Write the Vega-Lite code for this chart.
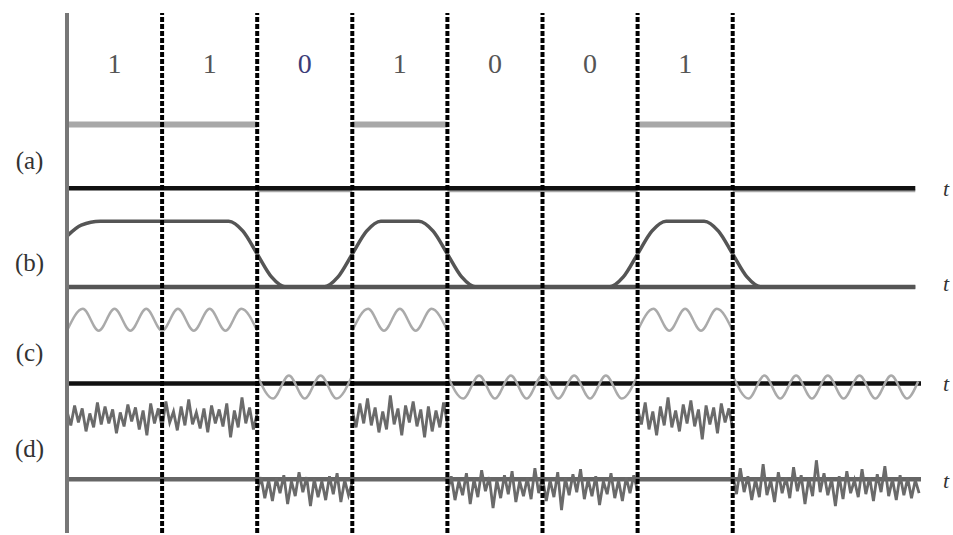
{
"$schema":"https://vega.github.io/schema/vega-lite/v6.json",
"width":953,"height":535,"padding":0,
"autosize":{"type":"fit","contains":"padding"},
"background":"white",
"config":{"view":{"stroke":null}},
"datasets":{
"sq":[{"t":0,"t2":2,"y":410},{"t":3,"t2":4,"y":410},{"t":6,"t2":7,"y":410},{"t":2,"t2":3,"y":343.5},{"t":4,"t2":6,"y":343.5},{"t":7,"t2":8.92,"y":343.5}],
"base":[{"p":"a","t":0,"t2":8.92,"y":346},{"p":"b","t":0,"t2":8.92,"y":247},{"p":"c","t":0,"t2":8.98,"y":150},{"p":"d","t":0,"t2":8.98,"y":54}],
"b":[{"t":0,"y":298},{"t":0.15,"y":309},{"t":0.35,"y":313},{"t":1.7,"y":313},{"t":1.85,"y":303},{"t":2,"y":280},{"t":2.15,"y":257},{"t":2.3,"y":247},{"t":2.7,"y":247},{"t":2.85,"y":257},{"t":3,"y":280},{"t":3.15,"y":303},{"t":3.3,"y":313},{"t":3.7,"y":313},{"t":3.85,"y":303},{"t":4,"y":280},{"t":4.15,"y":257},{"t":4.3,"y":247},{"t":5.7,"y":247},{"t":5.85,"y":257},{"t":6,"y":280},{"t":6.15,"y":303},{"t":6.3,"y":313},{"t":6.7,"y":313},{"t":6.85,"y":303},{"t":7,"y":280},{"t":7.15,"y":257},{"t":7.3,"y":247},{"t":8.92,"y":247}],
"sn":[
{"g":1,"t":0,"y":203},{"g":1,"t":0.1667,"y":225},{"g":1,"t":0.3333,"y":203},{"g":1,"t":0.5,"y":225},{"g":1,"t":0.6667,"y":203},{"g":1,"t":0.8333,"y":225},{"g":1,"t":1,"y":203},{"g":1,"t":1.1667,"y":225},{"g":1,"t":1.3333,"y":203},{"g":1,"t":1.5,"y":225},{"g":1,"t":1.6667,"y":203},{"g":1,"t":1.8333,"y":225},{"g":1,"t":2,"y":203},
{"g":2,"t":2,"y":158},{"g":2,"t":2.1667,"y":135},{"g":2,"t":2.3333,"y":158},{"g":2,"t":2.5,"y":135},{"g":2,"t":2.6667,"y":158},{"g":2,"t":2.8333,"y":135},{"g":2,"t":3,"y":158},
{"g":3,"t":3,"y":203},{"g":3,"t":3.1667,"y":225},{"g":3,"t":3.3333,"y":203},{"g":3,"t":3.5,"y":225},{"g":3,"t":3.6667,"y":203},{"g":3,"t":3.8333,"y":225},{"g":3,"t":4,"y":203},
{"g":4,"t":4,"y":158},{"g":4,"t":4.1667,"y":135},{"g":4,"t":4.3333,"y":158},{"g":4,"t":4.5,"y":135},{"g":4,"t":4.6667,"y":158},{"g":4,"t":4.8333,"y":135},{"g":4,"t":5,"y":158},{"g":4,"t":5.1667,"y":135},{"g":4,"t":5.3333,"y":158},{"g":4,"t":5.5,"y":135},{"g":4,"t":5.6667,"y":158},{"g":4,"t":5.8333,"y":135},{"g":4,"t":6,"y":158},
{"g":5,"t":6,"y":203},{"g":5,"t":6.1667,"y":225},{"g":5,"t":6.3333,"y":203},{"g":5,"t":6.5,"y":225},{"g":5,"t":6.6667,"y":203},{"g":5,"t":6.8333,"y":225},{"g":5,"t":7,"y":203},
{"g":6,"t":7,"y":158},{"g":6,"t":7.1667,"y":135},{"g":6,"t":7.3333,"y":158},{"g":6,"t":7.5,"y":135},{"g":6,"t":7.6667,"y":158},{"g":6,"t":7.8333,"y":135},{"g":6,"t":8,"y":158},{"g":6,"t":8.1667,"y":135},{"g":6,"t":8.3333,"y":158},{"g":6,"t":8.5,"y":135},{"g":6,"t":8.6667,"y":158},{"g":6,"t":8.8333,"y":135},{"g":6,"t":8.95,"y":152}
],
"nz":[
{"g":1,"t":0,"y":122},{"g":1,"t":0.04,"y":108},{"g":1,"t":0.08,"y":128},{"g":1,"t":0.12,"y":111},{"g":1,"t":0.16,"y":125},{"g":1,"t":0.2,"y":102},{"g":1,"t":0.24,"y":120},{"g":1,"t":0.28,"y":106},{"g":1,"t":0.32,"y":131},{"g":1,"t":0.36,"y":109},{"g":1,"t":0.4,"y":127},{"g":1,"t":0.44,"y":110},{"g":1,"t":0.48,"y":124},{"g":1,"t":0.52,"y":100},{"g":1,"t":0.56,"y":121},{"g":1,"t":0.6,"y":107},{"g":1,"t":0.64,"y":129},{"g":1,"t":0.68,"y":112},{"g":1,"t":0.72,"y":126},{"g":1,"t":0.76,"y":104},{"g":1,"t":0.8,"y":123},{"g":1,"t":0.84,"y":98},{"g":1,"t":0.88,"y":130},{"g":1,"t":0.92,"y":110},{"g":1,"t":0.96,"y":125},{"g":1,"t":1,"y":106},{"g":1,"t":1.04,"y":132},{"g":1,"t":1.08,"y":111},{"g":1,"t":1.12,"y":122},{"g":1,"t":1.16,"y":103},{"g":1,"t":1.2,"y":127},{"g":1,"t":1.24,"y":108},{"g":1,"t":1.28,"y":134},{"g":1,"t":1.32,"y":109},{"g":1,"t":1.36,"y":121},{"g":1,"t":1.4,"y":105},{"g":1,"t":1.44,"y":125},{"g":1,"t":1.48,"y":101},{"g":1,"t":1.52,"y":128},{"g":1,"t":1.56,"y":110},{"g":1,"t":1.6,"y":124},{"g":1,"t":1.64,"y":107},{"g":1,"t":1.68,"y":130},{"g":1,"t":1.72,"y":96},{"g":1,"t":1.76,"y":123},{"g":1,"t":1.8,"y":106},{"g":1,"t":1.84,"y":136},{"g":1,"t":1.88,"y":110},{"g":1,"t":1.92,"y":126},{"g":1,"t":1.96,"y":104},{"g":1,"t":2,"y":120},
{"g":2,"t":2,"y":42},{"g":2,"t":2.04,"y":56},{"g":2,"t":2.08,"y":35},{"g":2,"t":2.12,"y":53},{"g":2,"t":2.16,"y":32},{"g":2,"t":2.2,"y":55},{"g":2,"t":2.24,"y":40},{"g":2,"t":2.28,"y":58},{"g":2,"t":2.32,"y":29},{"g":2,"t":2.36,"y":52},{"g":2,"t":2.4,"y":37},{"g":2,"t":2.44,"y":61},{"g":2,"t":2.48,"y":41},{"g":2,"t":2.52,"y":56},{"g":2,"t":2.56,"y":27},{"g":2,"t":2.6,"y":54},{"g":2,"t":2.64,"y":36},{"g":2,"t":2.68,"y":52},{"g":2,"t":2.72,"y":33},{"g":2,"t":2.76,"y":57},{"g":2,"t":2.8,"y":39},{"g":2,"t":2.84,"y":60},{"g":2,"t":2.88,"y":31},{"g":2,"t":2.92,"y":53},{"g":2,"t":2.96,"y":38},{"g":2,"t":3,"y":51},
{"g":3,"t":3,"y":123},{"g":3,"t":3.04,"y":106},{"g":3,"t":3.08,"y":130},{"g":3,"t":3.12,"y":110},{"g":3,"t":3.16,"y":135},{"g":3,"t":3.2,"y":108},{"g":3,"t":3.24,"y":126},{"g":3,"t":3.28,"y":101},{"g":3,"t":3.32,"y":122},{"g":3,"t":3.36,"y":104},{"g":3,"t":3.4,"y":138},{"g":3,"t":3.44,"y":109},{"g":3,"t":3.48,"y":125},{"g":3,"t":3.52,"y":98},{"g":3,"t":3.56,"y":128},{"g":3,"t":3.6,"y":111},{"g":3,"t":3.64,"y":132},{"g":3,"t":3.68,"y":107},{"g":3,"t":3.72,"y":124},{"g":3,"t":3.76,"y":96},{"g":3,"t":3.8,"y":127},{"g":3,"t":3.84,"y":102},{"g":3,"t":3.88,"y":123},{"g":3,"t":3.92,"y":106},{"g":3,"t":3.96,"y":131},{"g":3,"t":4,"y":110},
{"g":4,"t":4,"y":41},{"g":4,"t":4.04,"y":57},{"g":4,"t":4.08,"y":33},{"g":4,"t":4.12,"y":52},{"g":4,"t":4.16,"y":38},{"g":4,"t":4.2,"y":60},{"g":4,"t":4.24,"y":29},{"g":4,"t":4.28,"y":54},{"g":4,"t":4.32,"y":36},{"g":4,"t":4.36,"y":63},{"g":4,"t":4.4,"y":42},{"g":4,"t":4.44,"y":56},{"g":4,"t":4.48,"y":25},{"g":4,"t":4.52,"y":53},{"g":4,"t":4.56,"y":35},{"g":4,"t":4.6,"y":58},{"g":4,"t":4.64,"y":39},{"g":4,"t":4.68,"y":62},{"g":4,"t":4.72,"y":31},{"g":4,"t":4.76,"y":52},{"g":4,"t":4.8,"y":37},{"g":4,"t":4.84,"y":55},{"g":4,"t":4.88,"y":34},{"g":4,"t":4.92,"y":65},{"g":4,"t":4.96,"y":40},{"g":4,"t":5,"y":56},{"g":4,"t":5.04,"y":32},{"g":4,"t":5.08,"y":53},{"g":4,"t":5.12,"y":36},{"g":4,"t":5.16,"y":61},{"g":4,"t":5.2,"y":23},{"g":4,"t":5.24,"y":55},{"g":4,"t":5.28,"y":38},{"g":4,"t":5.32,"y":59},{"g":4,"t":5.36,"y":41},{"g":4,"t":5.4,"y":64},{"g":4,"t":5.44,"y":34},{"g":4,"t":5.48,"y":54},{"g":4,"t":5.52,"y":37},{"g":4,"t":5.56,"y":57},{"g":4,"t":5.6,"y":28},{"g":4,"t":5.64,"y":52},{"g":4,"t":5.68,"y":39},{"g":4,"t":5.72,"y":60},{"g":4,"t":5.76,"y":35},{"g":4,"t":5.8,"y":53},{"g":4,"t":5.84,"y":32},{"g":4,"t":5.88,"y":56},{"g":4,"t":5.92,"y":40},{"g":4,"t":5.96,"y":58},{"g":4,"t":6,"y":42},
{"g":5,"t":6,"y":125},{"g":5,"t":6.04,"y":109},{"g":5,"t":6.08,"y":131},{"g":5,"t":6.12,"y":104},{"g":5,"t":6.16,"y":122},{"g":5,"t":6.2,"y":98},{"g":5,"t":6.24,"y":127},{"g":5,"t":6.28,"y":108},{"g":5,"t":6.32,"y":136},{"g":5,"t":6.36,"y":106},{"g":5,"t":6.4,"y":123},{"g":5,"t":6.44,"y":102},{"g":5,"t":6.48,"y":129},{"g":5,"t":6.52,"y":110},{"g":5,"t":6.56,"y":133},{"g":5,"t":6.6,"y":107},{"g":5,"t":6.64,"y":124},{"g":5,"t":6.68,"y":94},{"g":5,"t":6.72,"y":128},{"g":5,"t":6.76,"y":109},{"g":5,"t":6.8,"y":126},{"g":5,"t":6.84,"y":100},{"g":5,"t":6.88,"y":130},{"g":5,"t":6.92,"y":111},{"g":5,"t":6.96,"y":125},{"g":5,"t":7,"y":105},
{"g":6,"t":7,"y":59},{"g":6,"t":7.04,"y":39},{"g":6,"t":7.08,"y":65},{"g":6,"t":7.12,"y":41},{"g":6,"t":7.16,"y":57},{"g":6,"t":7.2,"y":33},{"g":6,"t":7.24,"y":54},{"g":6,"t":7.28,"y":36},{"g":6,"t":7.32,"y":69},{"g":6,"t":7.36,"y":38},{"g":6,"t":7.4,"y":53},{"g":6,"t":7.44,"y":31},{"g":6,"t":7.48,"y":61},{"g":6,"t":7.52,"y":40},{"g":6,"t":7.56,"y":56},{"g":6,"t":7.6,"y":35},{"g":6,"t":7.64,"y":66},{"g":6,"t":7.68,"y":42},{"g":6,"t":7.72,"y":58},{"g":6,"t":7.76,"y":29},{"g":6,"t":7.8,"y":55},{"g":6,"t":7.84,"y":37},{"g":6,"t":7.88,"y":73},{"g":6,"t":7.92,"y":41},{"g":6,"t":7.96,"y":60},{"g":6,"t":8,"y":38},{"g":6,"t":8.04,"y":54},{"g":6,"t":8.08,"y":27},{"g":6,"t":8.12,"y":57},{"g":6,"t":8.16,"y":34},{"g":6,"t":8.2,"y":62},{"g":6,"t":8.24,"y":40},{"g":6,"t":8.28,"y":53},{"g":6,"t":8.32,"y":36},{"g":6,"t":8.36,"y":64},{"g":6,"t":8.4,"y":39},{"g":6,"t":8.44,"y":56},{"g":6,"t":8.48,"y":32},{"g":6,"t":8.52,"y":59},{"g":6,"t":8.56,"y":41},{"g":6,"t":8.6,"y":67},{"g":6,"t":8.64,"y":37},{"g":6,"t":8.68,"y":54},{"g":6,"t":8.72,"y":33},{"g":6,"t":8.76,"y":58},{"g":6,"t":8.8,"y":38},{"g":6,"t":8.84,"y":55},{"g":6,"t":8.88,"y":35},{"g":6,"t":8.92,"y":53},{"g":6,"t":8.96,"y":40}
],
"ax":[{"t":0,"y":0,"y2":522}],
"dash":[{"t":1,"y":0,"y2":522},{"t":2,"y":0,"y2":522},{"t":3,"y":0,"y2":522},{"t":4,"y":0,"y2":522},{"t":5,"y":0,"y2":522},{"t":6,"y":0,"y2":522},{"t":7,"y":0,"y2":522}],
"bits":[{"i":1,"t":0.5,"y":470,"s":"1"},{"i":2,"t":1.5,"y":470,"s":"1"},{"i":3,"t":2.5,"y":470,"s":"0"},{"i":4,"t":3.5,"y":470,"s":"1"},{"i":5,"t":4.5,"y":470,"s":"0"},{"i":6,"t":5.5,"y":470,"s":"0"},{"i":7,"t":6.5,"y":470,"s":"1"}],
"lab":[{"t":-0.394,"y":373,"s":"(a)"},{"t":-0.394,"y":271,"s":"(b)"},{"t":-0.394,"y":181,"s":"(c)"},{"t":-0.394,"y":84,"s":"(d)"}],
"tl":[{"t":9.243,"y":345,"s":"t"},{"t":9.243,"y":250,"s":"t"},{"t":9.243,"y":150,"s":"t"},{"t":9.243,"y":52,"s":"t"}]
},
"encoding":{
"x":{"field":"t","type":"quantitative","scale":{"domain":[-0.7045,9.3165],"nice":false,"zero":false},"axis":null},
"y":{"field":"y","type":"quantitative","scale":{"domain":[0,535],"nice":false,"zero":false},"axis":null}
},
"layer":[
{"data":{"name":"sq"},"transform":[{"filter":"datum.y < 400"}],"mark":{"type":"rule","color":"#a8a8a8","strokeWidth":3},"encoding":{"x2":{"field":"t2"}}},
{"data":{"name":"sq"},"transform":[{"filter":"datum.y > 400"}],"mark":{"type":"rule","color":"#a8a8a8","strokeWidth":6},"encoding":{"x2":{"field":"t2"}}},
{"data":{"name":"base"},"mark":{"type":"rule","strokeWidth":4.5},"encoding":{"x2":{"field":"t2"},"color":{"field":"p","type":"nominal","scale":{"domain":["a","b","c","d"],"range":["#111111","#555555","#111111","#666666"]},"legend":null}}},
{"data":{"name":"b"},"mark":{"type":"line","interpolate":"monotone","color":"#555555","strokeWidth":3.5},"encoding":{}},
{"data":{"name":"sn"},"mark":{"type":"line","interpolate":"monotone","color":"#aaaaaa","strokeWidth":2.5},"encoding":{"detail":{"field":"g","type":"nominal"}}},
{"data":{"name":"nz"},"mark":{"type":"line","color":"#6a6a6a","strokeWidth":2.8},"encoding":{"detail":{"field":"g","type":"nominal"}}},
{"data":{"name":"ax"},"mark":{"type":"rule","color":"#777777","strokeWidth":4},"encoding":{"y2":{"field":"y2"}}},
{"data":{"name":"dash"},"mark":{"type":"rule","color":"#000000","strokeWidth":4,"strokeDash":[5,2]},"encoding":{"y2":{"field":"y2"}}},
{"data":{"name":"bits"},"transform":[{"filter":"datum.i != 3"}],"mark":{"type":"text","font":"Liberation Serif","fontSize":28,"color":"#555555"},"encoding":{"text":{"field":"s"}}},
{"data":{"name":"bits"},"transform":[{"filter":"datum.i == 3"}],"mark":{"type":"text","font":"Liberation Serif","fontSize":28,"color":"#3c3c78"},"encoding":{"text":{"field":"s"}}},
{"data":{"name":"lab"},"mark":{"type":"text","font":"Liberation Serif","fontSize":25,"color":"#333333"},"encoding":{"text":{"field":"s"}}},
{"data":{"name":"tl"},"mark":{"type":"text","font":"Liberation Serif","fontSize":22,"fontStyle":"italic","color":"#333333"},"encoding":{"text":{"field":"s"}}}
]
}
